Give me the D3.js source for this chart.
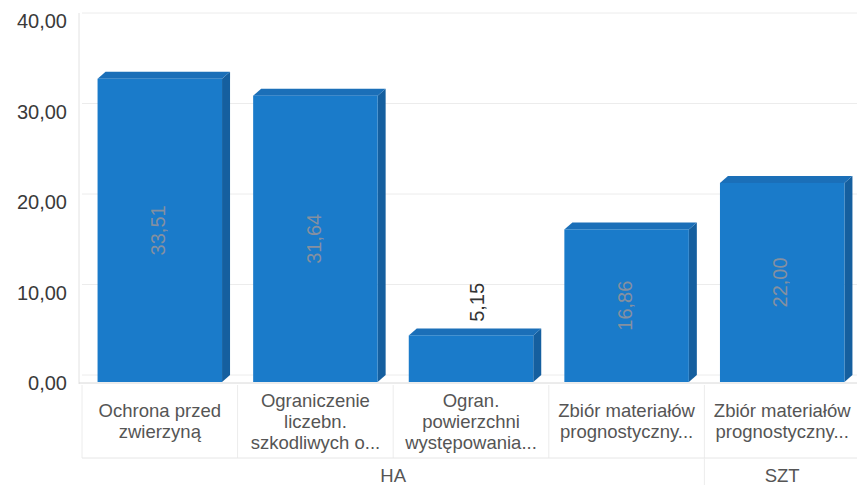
<!DOCTYPE html>
<html>
<head>
<meta charset="utf-8">
<script src="https://cdn.jsdelivr.net/npm/d3@7"></script>
<style>
  html, body { margin: 0; padding: 0; background: #ffffff; }
  svg { display: block; font-family: "Liberation Sans", Arial, sans-serif; }
</style>
</head>
<body>
<svg id="chart" width="857" height="485"></svg>
<script>
// ---- data ----
const categories = [
  ["Ochrona przed", "zwierzyną"],
  ["Ograniczenie", "liczebn.", "szkodliwych o..."],
  ["Ogran.", "powierzchni", "występowania..."],
  ["Zbiór materiałów", "prognostyczny..."],
  ["Zbiór materiałów", "prognostyczny..."]
];
const groups = ["HA", "HA", "HA", "HA", "SZT"];
const values = [33.51, 31.64, 5.15, 16.86, 22.00];
const yTicks = [0, 10, 20, 30, 40];

// ---- layout ----
const svg = d3.select("#chart");
const left = 82, right = 860, baseY = 382, topY = 20;
const depthX = 8, depthY = 7;
const fmt = v => v.toFixed(2).replace(".", ",");

const x = d3.scaleBand()
  .domain(d3.range(values.length))
  .range([left, right])
  .paddingInner(0.2)
  .paddingOuter(0.1);
const y = d3.scaleLinear().domain([0, 40]).range([baseY, topY]);

// gridlines (back wall, shifted by depth)
svg.append("g").selectAll("line").data(yTicks).join("line")
  .attr("x1", left).attr("x2", 857)
  .attr("y1", d => y(d) - depthY).attr("y2", d => y(d) - depthY)
  .attr("stroke", "#ececec").attr("stroke-width", 1);

// left axis line
svg.append("line")
  .attr("x1", left - 3).attr("x2", left - 3)
  .attr("y1", y(40) - depthY).attr("y2", baseY + 2)
  .attr("stroke", "#e2e2e2");

// baseline
svg.append("line")
  .attr("x1", left - 3).attr("x2", 857)
  .attr("y1", baseY + 1).attr("y2", baseY + 1)
  .attr("stroke", "#d8d8d8");

// y tick labels
svg.append("g").selectAll("text").data(yTicks).join("text")
  .attr("x", 67).attr("y", d => y(d) + 3)
  .attr("text-anchor", "end").attr("dominant-baseline", "middle")
  .attr("font-size", 20).attr("fill", "#3a3a3a")
  .text(fmt);

// bars (3D)
const bars = svg.append("g").selectAll("g").data(values).join("g");
// side face
bars.append("path")
  .attr("d", (d, i) => {
    const x1 = x(i) + x.bandwidth(), yt = y(d);
    return `M${x1},${yt} L${x1 + depthX},${yt - depthY} L${x1 + depthX},${baseY - depthY} L${x1},${baseY} Z`;
  })
  .attr("fill", "#155f9f");
// top face
bars.append("path")
  .attr("d", (d, i) => {
    const x0 = x(i), x1 = x(i) + x.bandwidth(), yt = y(d);
    return `M${x0},${yt} L${x0 + depthX},${yt - depthY} L${x1 + depthX},${yt - depthY} L${x1},${yt} Z`;
  })
  .attr("fill", "#1b6fb8");
// front face
bars.append("rect")
  .attr("x", (d, i) => x(i))
  .attr("y", d => y(d))
  .attr("width", x.bandwidth())
  .attr("height", d => baseY - y(d))
  .attr("fill", "#1a7bca");

// value labels
bars.append("text")
  .attr("transform", (d, i) => {
    const cx = x(i) + x.bandwidth() / 2 + (d < 10 ? 8 : 0);
    const cy = d < 10 ? y(d) - depthY - 26 : (y(d) + baseY) / 2;
    return `translate(${cx},${cy}) rotate(-90)`;
  })
  .attr("text-anchor", "middle").attr("dominant-baseline", "middle")
  .attr("font-size", 20)
  .attr("fill", d => d < 10 ? "#333333" : "#8590a0")
  .text(fmt);

// category label area separators
const step = x.step();
const bounds = d3.range(values.length + 1).map(i => left + i * step);
svg.append("g").selectAll("line").data(bounds).join("line")
  .attr("x1", d => d).attr("x2", d => d)
  .attr("y1", baseY + 3).attr("y2", 458)
  .attr("stroke", "#ececec");
svg.append("line")
  .attr("x1", left).attr("x2", 857)
  .attr("y1", 458).attr("y2", 458)
  .attr("stroke", "#e6e6e6");
svg.append("line")
  .attr("x1", bounds[4]).attr("x2", bounds[4])
  .attr("y1", 458).attr("y2", 485)
  .attr("stroke", "#ececec");

// category labels
const lineH = 21;
const catG = svg.append("g").selectAll("text").data(categories).join("text")
  .attr("text-anchor", "middle")
  .attr("font-size", 18.5).attr("fill", "#555555")
  .attr("transform", (d, i) => `translate(${left + (i + 0.5) * step},0)`);
catG.selectAll("tspan").data(d => d.map((t, k) => ({t, k, n: d.length}))).join("tspan")
  .attr("x", 0)
  .attr("y", o => 423 - (o.n - 1) * lineH / 2 + o.k * lineH)
  .attr("dominant-baseline", "middle")
  .text(o => o.t);

// group labels
const groupNames = Array.from(new Set(groups));
svg.append("g").selectAll("text").data(groupNames).join("text")
  .attr("x", g => {
    const idx = groups.map((v, i) => v === g ? i : -1).filter(i => i >= 0);
    return left + ((d3.min(idx) + d3.max(idx) + 1) / 2) * step;
  })
  .attr("y", 477)
  .attr("text-anchor", "middle").attr("dominant-baseline", "middle")
  .attr("font-size", 18.5).attr("fill", "#555555")
  .text(g => g);
</script>
</body>
</html>
